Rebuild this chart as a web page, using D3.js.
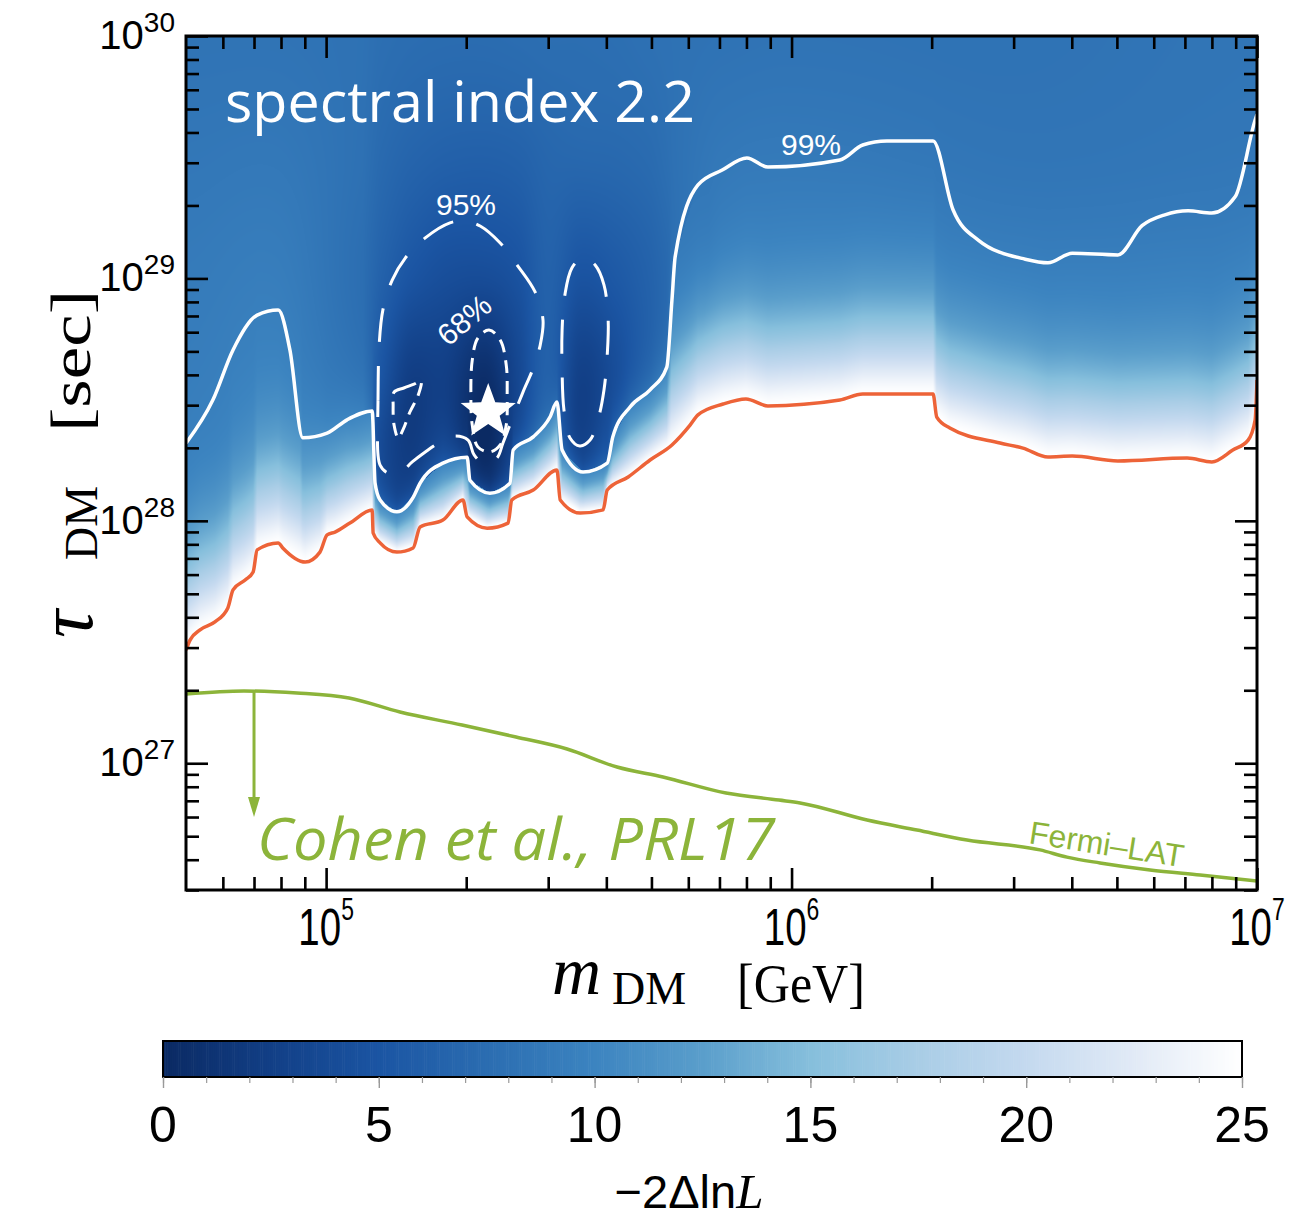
<!DOCTYPE html>
<html><head><meta charset="utf-8">
<script src="https://cdn.jsdelivr.net/npm/d3@7"></script>
<style>body{margin:0;background:#fff;}svg{display:block;}</style>
</head><body>
<svg id="chart" width="1290" height="1218"></svg>
<script>
// ---------------- DATA ----------------
// TS-boundary (orange) line: [m_DM (GeV), tau_DM (s)]
const redLine = [[5.0e4,2.93e27],[5.1e4,3.22e27],[5.36e4,3.55e27],[5.77e4,3.83e27],[6.15e4,4.37e27],[6.31e4,5.19e27],[6.70e4,5.70e27],[6.97e4,6.15e27],[7.11e4,7.59e27],[7.89e4,8.11e27],[8.07e4,7.73e27],[9.02e4,6.76e27],[9.70e4,7.43e27],[1.005e5,8.75e27],[1.045e5,8.99e27],[1.125e5,9.79e27],[1.256e5,1.109e28],[1.262e5,8.91e27],[1.306e5,8.11e27],[1.419e5,7.43e27],[1.538e5,7.73e27],[1.592e5,9.44e27],[1.782e5,1.007e28],[1.968e5,1.219e28],[2.009e5,1.038e28],[2.218e5,9.33e27],[2.460e5,9.79e27],[2.506e5,1.219e28],[2.786e5,1.340e28],[3.133e5,1.622e28],[3.184e5,1.219e28],[3.516e5,1.076e28],[3.936e5,1.109e28],[4.018e5,1.340e28],[4.457e5,1.517e28],[4.966e5,1.782e28],[5.534e5,2.056e28],[6.053e5,2.483e28],[6.295e5,2.735e28],[7.129e5,3.034e28],[7.980e5,3.184e28],[8.892e5,2.979e28],[1.270e6,3.148e28],[1.422e6,3.334e28],[2.014e6,3.334e28],[2.051e6,2.679e28],[2.188e6,2.415e28],[2.805e6,2.094e28],[3.141e6,1.995e28],[3.556e6,1.832e28],[4.009e6,1.849e28],[5.023e6,1.766e28],[7.079e6,1.816e28],[7.998e6,1.750e28],[8.872e6,1.959e28],[9.572e6,2.153e28],[9.908e6,2.606e28],[1.0e7,3.811e28]];

// 99% contour (white solid)
const line99 = [[5.0e4,2.09e28],[5.71e4,3.15e28],[6.31e4,5.07e28],[7.11e4,7.06e28],[7.89e4,7.41e28],[8.36e4,5.07e28],[8.91e4,2.20e28],[1.005e5,2.30e28],[1.109e5,2.61e28],[1.256e5,2.84e28],[1.274e5,1.43e28],[1.306e5,1.22e28],[1.419e5,1.09e28],[1.538e5,1.25e28],[1.592e5,1.43e28],[1.782e5,1.73e28],[2.009e5,1.83e28],[2.037e5,1.47e28],[2.249e5,1.30e28],[2.483e5,1.43e28],[2.523e5,1.96e28],[2.786e5,2.22e28],[3.027e5,2.68e28],[3.133e5,3.09e28],[3.214e5,1.96e28],[3.565e5,1.59e28],[4.018e5,1.73e28],[4.130e5,2.22e28],[4.498e5,2.95e28],[4.966e5,3.47e28],[5.395e5,4.31e28],[5.534e5,8.15e28],[5.623e5,1.23e29],[6.295e5,2.43e29],[7.096e5,2.80e29],[8.017e5,3.14e29],[8.892e5,2.88e29],[1.270e6,3.08e29],[1.422e6,3.55e29],[1.603e6,3.69e29],[2.014e6,3.69e29],[2.223e6,1.92e29],[2.518e6,1.44e29],[3.177e6,1.20e29],[3.556e6,1.16e29],[4.009e6,1.27e29],[5.023e6,1.25e29],[5.662e6,1.65e29],[6.339e6,1.83e29],[7.112e6,1.90e29],[7.998e6,1.86e29],[8.974e6,2.17e29],[9.908e6,4.50e29],[1.0e7,4.75e29]];

// 95% contours (white long dashes), [log10 m, log10 tau]
const contour95a = [[5.1115,28.272],[5.1115,28.498],[5.114,28.725],[5.122,28.870],[5.142,28.993],[5.170,29.084],[5.213,29.167],[5.266,29.229],[5.298,29.237],[5.331,29.216],[5.374,29.146],[5.412,29.051],[5.449,28.944],[5.466,28.828],[5.460,28.725],[5.445,28.630],[5.423,28.531],[5.399,28.416],[5.380,28.321],[5.367,28.259],[5.341,28.234],[5.318,28.272],[5.305,28.333],[5.277,28.350],[5.245,28.325],[5.213,28.284],[5.185,28.243],[5.155,28.193],[5.129,28.201],[5.116,28.230]];
const contour95b = [[5.552,29.088],[5.578,29.055],[5.597,28.973],[5.606,28.828],[5.604,28.684],[5.597,28.540],[5.584,28.416],[5.567,28.333],[5.545,28.309],[5.524,28.342],[5.511,28.457],[5.507,28.622],[5.507,28.787],[5.513,28.932],[5.528,29.043]];
// 68% contours (white short dashes)
const contour68a = [[5.350,28.787],[5.374,28.746],[5.387,28.643],[5.389,28.519],[5.387,28.395],[5.374,28.313],[5.352,28.284],[5.326,28.305],[5.314,28.395],[5.311,28.519],[5.314,28.663],[5.326,28.754]];
const contour68b = [[5.146,28.531],[5.167,28.548],[5.189,28.564],[5.204,28.577],[5.198,28.519],[5.180,28.449],[5.165,28.375],[5.155,28.342],[5.146,28.395],[5.144,28.478]];

// best fit point
const bestFit = [2.23e5, 2.81e28];

// Fermi-LAT limit (Cohen et al. PRL17)
const fermiLine = [[5.0e4,1.931e27],[6.66e4,1.986e27],[8.66e4,1.949e27],[1.120e5,1.858e27],[1.441e5,1.627e27],[1.959e5,1.438e27],[2.559e5,1.283e27],[3.293e5,1.145e27],[4.217e5,9.65e26],[5.293e5,8.78e26],[7.23e5,7.54e26],[9.40e5,7.05e26],[1.043e6,6.86e26],[1.453e6,5.83e26],[1.860e6,5.30e26],[2.382e6,4.82e26],[3.419e6,4.39e26],[3.906e6,4.10e26],[4.599e6,3.88e26],[5.892e6,3.63e26],[7.546e6,3.46e26],[1.0e7,3.27e26]];
const fermiArrow = [[7.0e4,1.99e27],[7.0e4,6.0e26]];

// -2 Delta lnL background field (rows = tauKnots, cols = massKnots)
const massKnots = [5e4,8e4,1.2e5,1.3e5,1.5e5,1.8e5,2.2e5,2.6e5,3.0e5,3.5e5,4.2e5,5.0e5,5.6e5,7e5,1e6,3e6,1e7];
const tauKnots = [3e27,1e28,2e28,4e28,1e29,3e29,1e30];
const fieldRow3e27 = [9.2,9.4,9.0,9.0,9.0,9.0,9.0,9.0,9.0,9.0,9.0,9.0,9.2,9.2,9.2,9.2,9.2];
const fieldRow1e28 = [9.2,9.4,8.8,5.0,3.5,4.5,2.5,5.5,8.0,4.5,7.5,8.6,9.0,9.2,9.2,9.2,9.2];
const fieldRow2e28 = [9.2,9.4,8.4,4.0,2.1,3.0,0.0,3.8,6.6,2.8,5.5,7.6,8.4,9.2,9.2,9.2,9.2];
const fieldRow4e28 = [9.2,9.4,7.8,5.2,2.5,2.5,0.6,3.5,6.2,2.7,4.2,6.4,7.6,9.2,9.2,9.2,9.2];
const fieldRow1e29 = [9.0,9.2,7.6,6.4,5.0,4.2,4.0,4.7,6.3,4.8,5.4,6.4,7.4,8.8,9.2,9.0,9.2];
const fieldRow3e29 = [8.6,8.7,7.9,7.2,6.6,6.2,6.1,6.3,6.8,6.9,7.0,7.3,7.9,8.6,8.8,8.4,8.6];
const fieldRow1e30 = [8.2,8.2,8.0,7.7,7.5,7.4,7.4,7.5,7.6,7.6,7.7,7.9,8.0,8.1,8.2,8.1,8.4];

// colour bar
const colorValues = [0,2.5,5,7.5,10,12.5,15,17.5,20,22.5,25];
const colorHexes = ["#0b2a63","#123f86","#1b55a3","#2b6db1","#3c84c0","#5a9ecb","#86bfdc","#a9cde6","#c4d9ef","#e1eaf6","#ffffff"];
const cbTicks = [0,5,10,15,20,25];

// axis ticks
const xMajor = [1e5,1e6,1e7];
const xMajorLabels = ["5","6","7"];
const yMajor = [1e27,1e28,1e29,1e30];
const yMajorLabels = ["27","28","29","30"];

// ---------------- CHART ----------------
const svg = d3.select("#chart");
const L = 186, R = 1257, T = 36, B = 890;
const x = d3.scaleLog().domain([5e4,1e7]).range([L,R]);
const y = d3.scaleLog().domain([3e26,1e30]).range([B,T]);
const color = d3.scaleLinear().domain(colorValues).range(colorHexes).interpolate(d3.interpolateRgb).clamp(true);
const fieldRows = [fieldRow3e27,fieldRow1e28,fieldRow2e28,fieldRow4e28,fieldRow1e29,fieldRow3e29,fieldRow1e30];

// heat map
const lg = Math.log10;
const redAt = d3.scaleLinear().domain(redLine.map(d=>lg(d[0]))).range(redLine.map(d=>lg(d[1])));
const c99At = d3.scaleLinear().domain(line99.map(d=>lg(d[0]))).range(line99.map(d=>lg(d[1])));
const mIdx = d3.scaleLinear().domain(massKnots.map(lg)).range(d3.range(massKnots.length)).clamp(true);
const tIdx = d3.scaleLinear().domain(tauKnots.map(lg)).range(d3.range(tauKnots.length)).clamp(true);
function cr(arr,f){
  const n=arr.length; let i=Math.floor(f); if(i>n-2)i=n-2; if(i<0)i=0;
  const t=f-i, p0=arr[Math.max(i-1,0)], p1=arr[i], p2=arr[i+1], p3=arr[Math.min(i+2,n-1)];
  const t2=t*t, t3=t2*t;
  return 0.5*(2*p1+(-p0+p2)*t+(2*p0-5*p1+4*p2-p3)*t2+(-p0+3*p1-3*p2+p3)*t3);
}
const lut = d3.range(0,2501).map(i=>{const c=d3.rgb(color(i/100));return [c.r,c.g,c.b];});
const pw = R-L, ph = B-T;
const cv = document.createElement("canvas"); cv.width=pw; cv.height=ph;
const ctx = cv.getContext("2d");
const img = ctx.createImageData(pw,ph);
const rowLogTau = d3.range(ph).map(py=>lg(y.invert(T+py+0.5)));
const rowIdx = rowLogTau.map(v=>tIdx(v));
for(let px=0;px<pw;px++){
  const lm = lg(x.invert(L+px+0.5));
  const lr = redAt(lm), lw = c99At(lm);
  const delta = Math.min(0.32, 0.55*(lw-lr));
  const fi = mIdx(lm);
  const col = fieldRows.map(r=>cr(r,fi));
  for(let py=0;py<ph;py++){
    const k=(py*pw+px)*4;
    const lt=rowLogTau[py], d=lt-lr;
    let rgb;
    if(d<0){ rgb=[255,255,255]; }
    else{
      let A=cr(col,rowIdx[py]);
      if(lt<lw) A=Math.max(A,8.5);
      let v=A+(25-A)*Math.exp(-Math.pow(d/delta,1.4));
      v=Math.max(0,Math.min(25,v));
      rgb=lut[Math.round(v*100)];
    }
    img.data[k]=rgb[0]; img.data[k+1]=rgb[1]; img.data[k+2]=rgb[2]; img.data[k+3]=255;
  }
}
ctx.putImageData(img,0,0);
svg.append("image").attr("x",L).attr("y",T).attr("width",pw).attr("height",ph)
  .attr("href",cv.toDataURL()).attr("preserveAspectRatio","none");

svg.append("clipPath").attr("id","plotclip").append("rect").attr("x",L).attr("y",T).attr("width",pw).attr("height",ph);
const gp = svg.append("g").attr("clip-path","url(#plotclip)");

const lineMT = d3.line().x(d=>x(d[0])).y(d=>y(d[1])).curve(d3.curveMonotoneX);
const closedLog = d3.line().x(d=>x(Math.pow(10,d[0]))).y(d=>y(Math.pow(10,d[1]))).curve(d3.curveCatmullRomClosed.alpha(0.5));

// Fermi line
const green = "#8cb43a";
gp.append("path").attr("d",lineMT(fermiLine)).attr("fill","none").attr("stroke",green).attr("stroke-width",3.5);
const ax = x(fermiArrow[0][0]), ay0 = y(fermiArrow[0][1]), ay1 = y(fermiArrow[1][1]);
gp.append("line").attr("x1",ax).attr("x2",ax).attr("y1",ay0).attr("y2",ay1-14).attr("stroke",green).attr("stroke-width",3);
gp.append("path").attr("d",`M${ax-6},${ay1-20}L${ax+6},${ay1-20}L${ax},${ay1}Z`).attr("fill",green);
svg.append("text").attr("x",257).attr("y",860).attr("fill",green).attr("font-family","Open Sans").attr("font-style","italic")
  .attr("font-size",58).attr("textLength",518).attr("lengthAdjust","spacingAndGlyphs").text("Cohen et al., PRL17");
svg.append("text").attr("transform","translate(1028,843) rotate(9)").attr("fill",green).attr("font-family","Liberation Sans")
  .attr("font-size",32).text("Fermi\u2013LAT");

// red & white lines
gp.append("path").attr("d",lineMT(redLine)).attr("fill","none").attr("stroke","#ed6338").attr("stroke-width",3.5).attr("stroke-linejoin","round");
gp.append("path").attr("d",lineMT(line99)).attr("fill","none").attr("stroke","#fff").attr("stroke-width",3.5).attr("stroke-linejoin","round");
[contour95a,contour95b].forEach(c=>gp.append("path").attr("d",closedLog(c)).attr("fill","none").attr("stroke","#fff").attr("stroke-width",3).attr("stroke-dasharray","34,24"));
[contour68a,contour68b].forEach(c=>gp.append("path").attr("d",closedLog(c)).attr("fill","none").attr("stroke","#fff").attr("stroke-width",3).attr("stroke-dasharray","13,8"));

// star
function starPath(cx,cy,Ro,Ri){const p=[];for(let i=0;i<10;i++){const a=-Math.PI/2+i*Math.PI/5,r=i%2?Ri:Ro;p.push([cx+r*Math.cos(a),cy+r*Math.sin(a)]);}return "M"+p.join("L")+"Z";}
gp.append("path").attr("d",starPath(x(bestFit[0]),y(bestFit[1]),29,12)).attr("fill","#fff");

// contour labels
const lab = (t,tx,ty,rot)=>svg.append("text").attr("transform",`translate(${tx},${ty}) rotate(${rot})`).attr("text-anchor","middle")
  .attr("fill","#fff").attr("font-family","Liberation Sans").attr("font-size",30).text(t);
lab("99%",811,155,0); lab("95%",466,215,0); lab("68%",471,328,-40);

// title
svg.append("text").attr("x",225).attr("y",122).attr("fill","#fff").attr("font-family","Open Sans").attr("font-size",56)
  .attr("textLength",470).attr("lengthAdjust","spacingAndGlyphs").text("spectral index 2.2");

// axes ticks
const isMajor = v=>Math.abs(lg(v)-Math.round(lg(v)))<1e-9;
const xMinor = x.ticks().filter(v=>!isMajor(v) && v>5e4);
const yMinor = y.ticks().filter(v=>!isMajor(v) && v>3e26);
function tickAxis(axisFn, scale, vals, size, tr){
  const g = svg.append("g").attr("transform",tr).call(axisFn(scale).tickValues(vals).tickSize(-size).tickFormat(""));
  g.select(".domain").remove();
  g.selectAll("line").attr("stroke","#000").attr("stroke-width",2.6);
}
[[d3.axisBottom,`translate(0,${B})`],[d3.axisTop,`translate(0,${T})`]].forEach(([f,tr])=>{tickAxis(f,x,xMinor,13,tr);tickAxis(f,x,xMajor,22,tr);});
[[d3.axisLeft,`translate(${L},0)`],[d3.axisRight,`translate(${R},0)`]].forEach(([f,tr])=>{tickAxis(f,y,yMinor,13,tr);tickAxis(f,y,yMajor,22,tr);});
svg.append("rect").attr("x",L).attr("y",T).attr("width",pw).attr("height",ph).attr("fill","none").attr("stroke","#000").attr("stroke-width",3);

// tick labels
yMajor.forEach((v,i)=>{
  const t=svg.append("text").attr("x",175).attr("y",y(v)+13).attr("text-anchor","end").attr("font-family","Liberation Sans").attr("font-size",40);
  t.append("tspan").text("10");
  t.append("tspan").attr("font-size",28).attr("dy",-17).text(yMajorLabels[i]);
});
xMajor.forEach((v,i)=>{
  const t=svg.append("text").attr("transform",`translate(${x(v)},945) scale(0.74,1)`).attr("text-anchor","middle").attr("font-family","Liberation Sans").attr("font-size",52);
  t.append("tspan").text("10");
  t.append("tspan").attr("font-size",31).attr("dy",-25).text(xMajorLabels[i]);
});

// axis titles
const serif = "Liberation Serif";
svg.append("text").attr("x",552).attr("y",994).attr("font-family",serif).attr("font-style","italic").attr("font-size",68).text("m");
svg.append("text").attr("x",612).attr("y",1004).attr("font-family",serif).attr("font-size",46).text("DM");
svg.append("text").attr("x",737).attr("y",1002).attr("font-family",serif).attr("font-size",55).attr("textLength",128).attr("lengthAdjust","spacingAndGlyphs").text("[GeV]");
svg.append("text").attr("transform","translate(92,638) rotate(-90)").attr("font-family",serif).attr("font-style","italic").attr("font-size",78).text("\u03c4");
svg.append("text").attr("transform","translate(97,560) rotate(-90)").attr("font-family",serif).attr("font-size",46).text("DM");
svg.append("text").attr("transform","translate(90,432) rotate(-90)").attr("font-family",serif).attr("font-size",58).attr("textLength",142).attr("lengthAdjust","spacingAndGlyphs").text("[sec]");

// colour bar
const cb = d3.scaleLinear().domain([0,25]).range([163,1242]);
const cbY = 1041, cbH = 36;
const steps = d3.range(0,25,0.05);
svg.append("g").selectAll("rect").data(steps).join("rect")
  .attr("x",d=>cb(d)).attr("y",cbY).attr("width",d=>cb(d+0.05)-cb(d)+0.6).attr("height",cbH).attr("fill",d=>color(d+0.025));
svg.append("rect").attr("x",163).attr("y",cbY).attr("width",cb(25)-cb(0)).attr("height",cbH).attr("fill","none").attr("stroke","#000").attr("stroke-width",2);
const cbt = svg.append("g").attr("transform",`translate(0,${cbY+cbH})`);
cbt.call(d3.axisBottom(cb).tickValues(d3.range(0,26,1)).tickSize(6).tickFormat("")).select(".domain").remove();
cbt.selectAll("line").attr("stroke","#999").attr("stroke-width",1.2);
const cbt2 = svg.append("g").attr("transform",`translate(0,${cbY+cbH})`);
cbt2.call(d3.axisBottom(cb).tickValues(cbTicks).tickSize(11).tickFormat("")).select(".domain").remove();
cbt2.selectAll("line").attr("stroke","#999").attr("stroke-width",1.4);
cbTicks.forEach(v=>svg.append("text").attr("x",cb(v)).attr("y",1142).attr("text-anchor","middle").attr("font-family","Liberation Sans").attr("font-size",50).text(v));
const ct = svg.append("text").attr("x",689).attr("y",1208).attr("text-anchor","middle").attr("font-family","Liberation Sans").attr("font-size",47);
ct.append("tspan").text("\u22122\u0394ln");
ct.append("tspan").attr("font-family",serif).attr("font-style","italic").attr("font-size",49).text("L");
</script></body></html>
